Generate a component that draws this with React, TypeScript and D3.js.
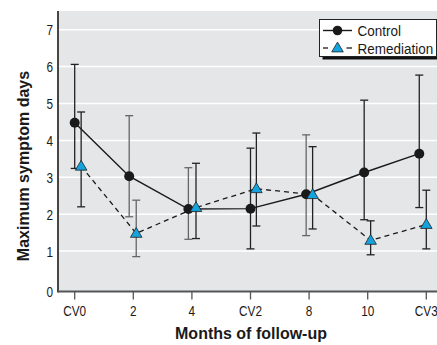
import React from "react";
import * as d3 from "d3";

const categories = ["CV0", "2", "4", "CV2", "8", "10", "CV3"];
const yTicks = [0, 1, 2, 3, 4, 5, 6, 7];

const controlPos = [0.0, 0.93, 1.94, 3.0, 3.95, 4.94, 5.88];
const controlMean = [4.48, 3.03, 2.14, 2.15, 2.54, 3.13, 3.64];
const controlHigh = [6.06, 4.67, 3.26, 3.79, 4.15, 5.09, 5.77];
const controlLow = [3.24, 1.93, 1.32, 1.06, 1.42, 1.85, 2.18];

const remPos = [0.11, 1.05, 2.07, 3.1, 4.06, 5.05, 6.0];
const remMean = [3.3, 1.48, 2.18, 2.69, 2.53, 1.29, 1.72];
const remHigh = [4.77, 2.38, 3.38, 4.2, 3.83, 1.82, 2.65];
const remLow = [2.2, 0.85, 1.34, 1.68, 1.6, 0.9, 1.06];

const W = 437;
const H = 345;
const left = 58;
const right = 437;
const top = 11;
const axisY = 291.5;

const font = "'Liberation Sans', Arial, sans-serif";
const triFill = "#14a3dc";

function CText(props: {
  x: number;
  y: number;
  anchor?: string;
  size: number;
  sx: number;
  bold?: boolean;
  rotate?: number;
  dy?: string;
  children: React.ReactNode;
}) {
  const { x, y, anchor = "start", size, sx, bold, rotate = 0, dy, children } = props;
  return (
    <g transform={`translate(${x},${y}) rotate(${rotate}) scale(${sx},1)`}>
      <text
        x={0}
        y={0}
        dy={dy}
        textAnchor={anchor}
        fontFamily={font}
        fontSize={size}
        fontWeight={bold ? "bold" : "normal"}
        fill="#1a1a1a"
      >
        {children}
      </text>
    </g>
  );
}

export default function App() {
  const x = d3.scaleLinear().domain([0, 6]).range([74.7, 426.3]);
  const y = d3.scaleLinear().domain([0, 7]).range([288, 29.7]);

  const lineC = d3
    .line<number>()
    .x((_, i) => x(controlPos[i]))
    .y((d) => y(d));
  const lineR = d3
    .line<number>()
    .x((_, i) => x(remPos[i]))
    .y((d) => y(d));

  const tri = (cx: number, cy: number) => {
    const w = 5.8;
    const h = 9.8;
    return `M${cx},${cy - h * 0.6} L${cx + w},${cy + h * 0.4} L${cx - w},${cy + h * 0.4} Z`;
  };

  const errBar = (px: number, lo: number, hi: number, key: string, color: string) => (
    <g key={key} stroke={color} strokeWidth={1.3}>
      <line x1={px} x2={px} y1={y(lo)} y2={y(hi)} />
      <line x1={px - 4} x2={px + 4} y1={y(lo)} y2={y(lo)} />
      <line x1={px - 4} x2={px + 4} y1={y(hi)} y2={y(hi)} />
    </g>
  );

  return (
    <svg width={W} height={H} style={{ position: "absolute", left: 0, top: 0 }}>
      <rect x={0} y={0} width={W} height={H} fill="#fff" />
      <rect x={left} y={top} width={right - left} height={axisY - top} fill="#e5e6e8" />
      {yTicks.slice(1).map((t) => (
        <line key={t} x1={left} x2={right} y1={y(t)} y2={y(t)} stroke="#fff" strokeWidth={1.5} />
      ))}
      {/* axes */}
      <line x1={left} x2={left} y1={top} y2={axisY + 1} stroke="#333" strokeWidth={1.8} />
      <line x1={left} x2={right} y1={axisY} y2={axisY} stroke="#555" strokeWidth={1.8} />
      {categories.map((c, i) => (
        <g key={c}>
          <line x1={x(i)} x2={x(i)} y1={axisY} y2={axisY + 8} stroke="#555" strokeWidth={1.3} />
          <CText x={x(i)} y={316} anchor="middle" size={15.5} sx={0.76}>
            {c}
          </CText>
        </g>
      ))}
      {yTicks.map((t) => (
        <CText key={t} x={53} y={t === 0 ? axisY : y(t)} dy="0.36em" anchor="end" size={15.5} sx={0.76}>
          {t}
        </CText>
      ))}
      <CText x={28.5} y={166} rotate={-90} anchor="middle" size={16.5} sx={0.97} bold>
        Maximum symptom days
      </CText>
      <CText x={251} y={339} anchor="middle" size={16.5} sx={0.97} bold>
        Months of follow-up
      </CText>

      {/* error bars */}
      {controlMean.map((_, i) =>
        errBar(x(controlPos[i]), controlLow[i], controlHigh[i], "ce" + i, i === 1 || i === 2 || i === 4 ? "#666" : "#222")
      )}
      {remMean.map((_, i) => errBar(x(remPos[i]), remLow[i], remHigh[i], "re" + i, i === 1 ? "#666" : "#222"))}

      {/* lines */}
      <path d={lineR(remMean) || ""} fill="none" stroke="#1a1a1a" strokeWidth={1.3} strokeDasharray="5,4" />
      <path d={lineC(controlMean) || ""} fill="none" stroke="#1a1a1a" strokeWidth={1.4} />

      {/* markers */}
      {controlMean.map((v, i) => (
        <circle key={"c" + i} cx={x(controlPos[i])} cy={y(v)} r={5} fill="#1a1a1a" />
      ))}
      {remMean.map((v, i) => (
        <path key={"r" + i} d={tri(x(remPos[i]), y(v))} fill={triFill} stroke="#222" strokeWidth={0.8} />
      ))}

      {/* legend */}
      <rect x={322.5} y={23} width={117} height={36.5} fill="#111" />
      <rect x={319.5} y={19.5} width={117} height={37} fill="#fff" stroke="#222" strokeWidth={1} />
      <line x1={323} x2={352} y1={30.5} y2={30.5} stroke="#1a1a1a" strokeWidth={1.4} />
      <circle cx={337.5} cy={30.5} r={4.8} fill="#1a1a1a" />
      <CText x={357.5} y={30.5} dy="0.36em" size={15.5} sx={0.87}>
        Control
      </CText>
      <line x1={323} x2={328} y1={48} y2={48} stroke="#1a1a1a" strokeWidth={1.3} />
      <path d={tri(337.5, 48)} fill={triFill} stroke="#222" strokeWidth={0.8} />
      <line x1={346.5} x2={352} y1={48} y2={48} stroke="#1a1a1a" strokeWidth={1.3} />
      <CText x={357.5} y={48} dy="0.36em" size={15.5} sx={0.87}>
        Remediation
      </CText>
    </svg>
  );
}
